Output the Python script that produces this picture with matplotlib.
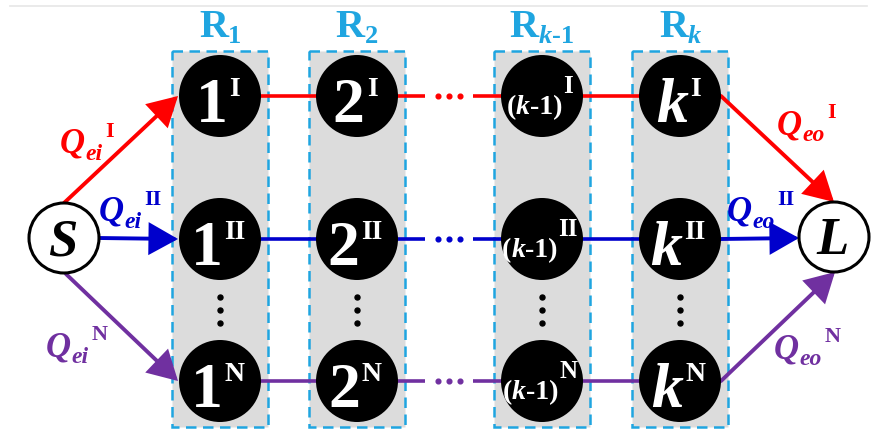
import matplotlib
matplotlib.use('Agg')
import matplotlib.pyplot as plt
from matplotlib.patches import Circle, Rectangle, FancyArrowPatch

# ---------------- data ----------------
stage_names = ['1', '2', '(k-1)', 'k']          # node main labels per stage
stage_region_subs = ['1', '2', 'k-1', 'k']      # R_x subscripts
path_ids = ['I', 'II', 'N']                     # parallel paths
path_colors = ['#FF0000', '#0000CC', '#7030A0']
inflow_sub = 'ei'
outflow_sub = 'eo'
source_label = 'S'
sink_label = 'L'

# ---------------- layout ----------------
W, H = 873, 434
col_x = [220, 357, 542, 680]
row_y = [96, 239, 381]
node_r = 41
box_half_w = 48
box_top, box_bot = 51, 427
S_pos, L_pos, SL_r = (64, 238), (834, 237), 35
gap_line_end, gap_line_start = 425, 473
gap_dots_x = [438, 449, 460]
vdots_y = [297, 310, 323]
q_in_anchor = [(60, 153), (99, 221), (46, 356)]
q_out_anchor = [(777, 134), (727, 221), (774, 358)]
CYAN = '#1FA5E0'
GRAY = '#DCDCDC'
FONT = 'Liberation Serif'

fig = plt.figure(figsize=(8.73, 4.34), dpi=100)
ax = fig.add_axes([0, 0, 1, 1])
ax.set_xlim(0, W)
ax.set_ylim(H, 0)
ax.axis('off')
renderer = fig.canvas.get_renderer()


def draw_run(x, y, pieces, color, align='left', zorder=10):
    texts = []
    cur = x
    for txt, size, ital, dy, gap in pieces:
        cur += gap
        t = ax.text(cur, y + dy, txt, fontsize=size, fontfamily=FONT,
                    fontweight='bold', fontstyle='italic' if ital else 'normal',
                    color=color, ha='left', va='baseline', zorder=zorder)
        w = t.get_window_extent(renderer=renderer).width
        texts.append(t)
        cur += w
    total = cur - x
    if align == 'center':
        for t in texts:
            px, py = t.get_position()
            t.set_position((px - total / 2, py))
    return texts


def styled(s, size, dy, gap=0):
    """split a string into runs; letter k is italic, others upright"""
    runs = []
    for ch in s:
        ital = ch == 'k'
        if runs and runs[-1][2] == ital:
            runs[-1][0] += ch
        else:
            runs.append([ch, size, ital, dy, 0])
    runs[0][4] = gap
    return [tuple(r) for r in runs]


# top faint rule
ax.plot([10, 867], [6, 6], color='#E6E6E6', lw=1.2, zorder=0)

# region boxes and titles
for cx, sub in zip(col_x, stage_region_subs):
    ax.add_patch(Rectangle((cx - box_half_w, box_top), 2 * box_half_w, box_bot - box_top,
                           facecolor=GRAY, edgecolor=CYAN, lw=1.8,
                           linestyle=(0, (4.2, 2.6)), zorder=1))
    draw_run(cx, 37, [('R', 29, False, 0, 0)] + styled(sub, 19, 6), CYAN, align='center')
    ax.plot([cx] * len(vdots_y), vdots_y, 'o', color='black', ms=3.6, zorder=3)

# horizontal path lines
for ry, col in zip(row_y, path_colors):
    segs = [(col_x[0], col_x[1]), (col_x[1], gap_line_end),
            (gap_line_start, col_x[2]), (col_x[2], col_x[3])]
    for a, b in segs:
        ax.plot([a, b], [ry, ry], color=col, lw=2.6, solid_capstyle='butt', zorder=2)
    ax.plot(gap_dots_x, [ry] * len(gap_dots_x), 'o', color=col, ms=3.4, zorder=2)

# nodes
for cx, name in zip(col_x, stage_names):
    for ry, pid in zip(row_y, path_ids):
        ax.add_patch(Circle((cx, ry), node_r, facecolor='black', edgecolor='none', zorder=5))
        if name.startswith('('):
            pieces = styled(name, 20, 18) + [(pid, 18, False, -3, 1)]
        else:
            pieces = styled(name, 46, 26) + [(pid, 20, False, 0, 2)]
        draw_run(cx - 2, ry, pieces, 'white', align='center', zorder=6)

# source and sink
for (px, py), lab in [(S_pos, source_label), (L_pos, sink_label)]:
    ax.add_patch(Circle((px, py), SL_r, facecolor='white', edgecolor='black', lw=2.2, zorder=5))
    ax.text(px - 1, py + 17, lab, fontsize=38, fontfamily=FONT, fontweight='bold',
            fontstyle='italic', color='black', ha='center', va='baseline', zorder=6)

# arrows
astyle = '-|>,head_length=17,head_width=9.5'
in_starts = [(S_pos[0], S_pos[1] - SL_r), (S_pos[0] + SL_r, S_pos[1]), (S_pos[0] + 2, S_pos[1] + SL_r + 1)]
out_ends = [(L_pos[0], L_pos[1] - SL_r), (L_pos[0] - SL_r, L_pos[1] + 1), (L_pos[0] + 1, L_pos[1] + SL_r)]
for i, (ry, col) in enumerate(zip(row_y, path_colors)):
    a1 = FancyArrowPatch(in_starts[i], (col_x[0] - node_r - 1, ry), arrowstyle=astyle,
                         mutation_scale=1, lw=2.8, color=col, shrinkA=0, shrinkB=0,
                         joinstyle='miter', zorder=4)
    ax.add_patch(a1)
    a2 = FancyArrowPatch((col_x[3] + node_r, ry), out_ends[i], arrowstyle=astyle,
                         mutation_scale=1, lw=2.8, color=col, shrinkA=0, shrinkB=0,
                         joinstyle='miter', zorder=4)
    ax.add_patch(a2)

# flow labels
for i, (pid, col) in enumerate(zip(path_ids, path_colors)):
    x, y = q_in_anchor[i]
    draw_run(x, y, [('Q', 25, True, 0, 0), (inflow_sub, 17, True, 7, 0), (pid, 16, False, -16, 3)], col)
    x, y = q_out_anchor[i]
    draw_run(x, y, [('Q', 25, True, 0, 0), (outflow_sub, 17, True, 7, 0), (pid, 16, False, -16, 3)], col)

fig.savefig('out.png', dpi=100, facecolor='white')
